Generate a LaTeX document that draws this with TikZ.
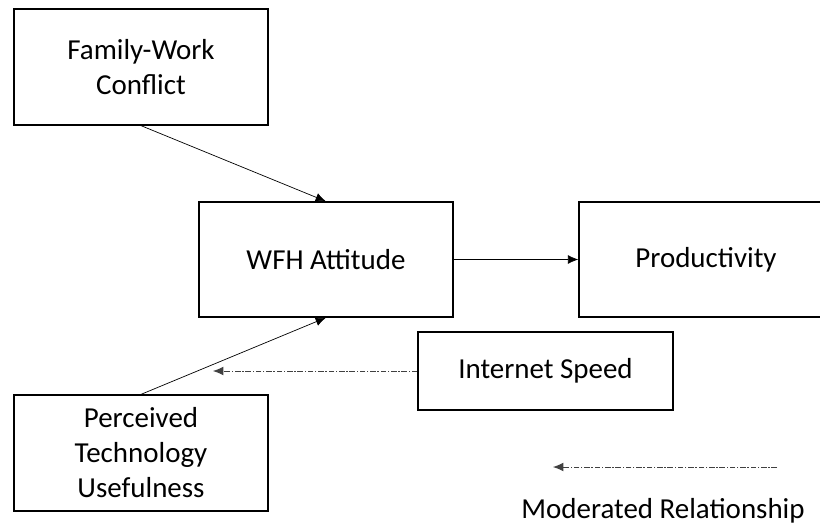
\documentclass[tikz,border=0pt]{standalone}
\usepackage{fontspec}
\setmainfont{Carlito}
\usetikzlibrary{positioning,arrows.meta}
\begin{document}
\begin{tikzpicture}[-{Latex[length=2.6mm,width=2.2mm]}, box/.style={draw, line width=0.9pt, minimum width=6.35cm, minimum height=2.9cm, align=center, font=\fontsize{20.6}{24.9}\selectfont}, moder/.style={draw=black!75, line width=0.6pt, dash pattern=on 4pt off 1.2pt on 1pt off 1.2pt}]
\useasboundingbox (0,0) rectangle (20.5,13.125);
\node[box] (fwc) at (3.525, 11.45) {Family-Work\\Conflict};
\node[box, minimum height=2.875cm] (wfh) at (8.15, 6.6375) {WFH Attitude};
\node[box, minimum height=2.875cm] (prod) at (17.65, 6.6375) {Productivity};
\node[box, minimum width=6.375cm, minimum height=1.95cm] (inet) at (13.6375, 3.85) {Internet Speed};
\node[box] (ptu) at (3.525, 1.8) {Perceived\\Technology\\Usefulness};
\node[font=\fontsize{20.6}{24.9}\selectfont] (legtext) at (16.575, 0.36) {Moderated Relationship};
\coordinate (modend) at (5.325, 3.85);
\coordinate (legstart) at (19.425, 1.45);
\coordinate (legend) at (13.825, 1.45);

\draw[line width=0.5pt] (fwc.south) -- (wfh.north);
\draw[line width=0.5pt] (ptu.north) -- (wfh.south);
\draw[line width=0.5pt] (wfh.east) -- (prod.west);
\draw[moder] (inet.west) -- (modend);
\draw[moder] (legstart) -- (legend);
\end{tikzpicture}
\end{document}
